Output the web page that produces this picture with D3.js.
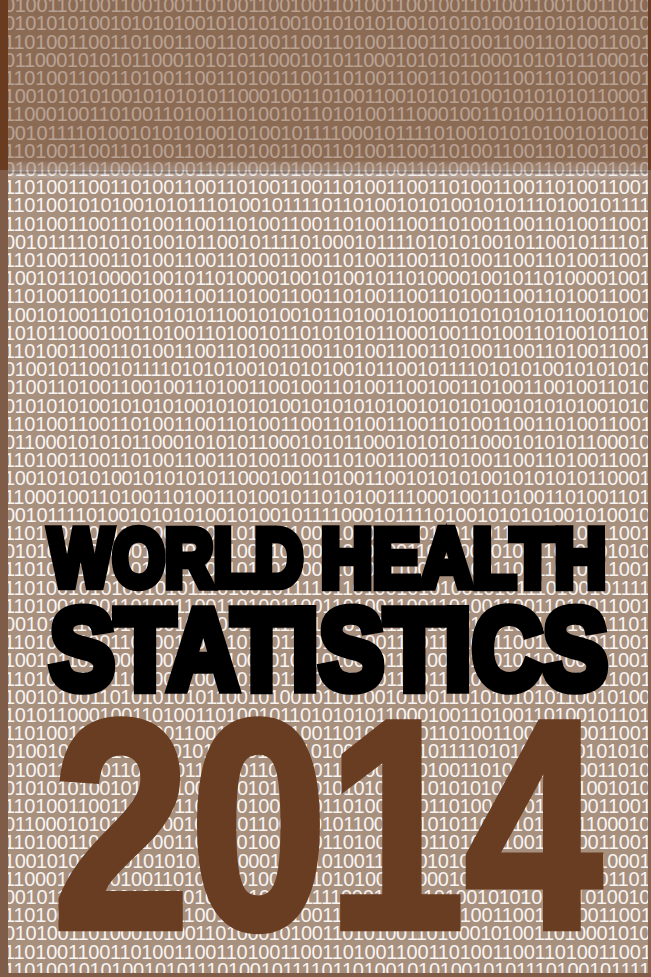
<!DOCTYPE html>
<meta charset="utf-8">
<style type="text/css">
body { margin: 0; background: #a8907f; }
.bits { font-family: "Liberation Sans", Arial, sans-serif; font-size: 20px; fill: #f8f4f1; }
</style>
<body>
<script src="https://cdn.jsdelivr.net/npm/d3@7/dist/d3.min.js"></script>
<script>
var binaryRows = [
  "01001101001100100110100110010011010011001001101001100100110100",
  "01010101001010101001010101001010101010010101010010101010010101",
  "11010011001101001100110100110011010011001101001100110100110011",
  "01100010101011000101010110001010110001010101100010101011000101",
  "11010011001101001100110100110011010011001101001100110100110011",
  "10010101010010101010110001001101001100101010100101010101100010",
  "11000100110100110100110100101101010011100010011010011010011010",
  "00101111010010101010010100101111000101111010010101010010100101",
  "11010011001101001100110100110011010011001101001100110100110011",
  "01010011010001010011010001010011010100110100010100110100010100",
  "11010011001101001100110100110011010011001101001100110100110011",
  "11010010101001010111010010111101101001010100101011101001011110",
  "11010011001101001100110100110011010011001101001100110100110011",
  "00101111010101001011001011110100010111101010100101100101111010",
  "11010011001101001100110100110011010011001101001100110100110011",
  "10010110100001001011010000100101001011010000100101101000010010",
  "11010011001101001100110100110011010011001101001100110100110011",
  "10010100110101010101100101001011010010100110101010101100101001",
  "10101100010011010011010010110101010110001001101001101001011010",
  "11010011001101001100110100110011010011001101001100110100110011",
  "01001011001011110101010010101010010110010111101010100101010100"
];
var titleWords = [["WORLD", "HEALTH"], ["STATISTICS"]];
var yearText = "2014";

var width = 651, height = 977;
var rowsShown = 54;

var svg = d3.select("body").append("svg")
    .attr("width", width)
    .attr("height", height)
    .style("display", "block");

var defs = svg.append("defs");
defs.append("clipPath").attr("id", "frame")
  .append("rect").attr("width", width).attr("height", height);

// background
svg.append("rect").attr("width", width).attr("height", height).attr("fill", "#a8907f");

// row position scale (cap tops)
var y = d3.scaleLinear().domain([0, rowsShown - 1]).range([-2, -2 + 18.2 * (rowsShown - 1)]);

svg.append("g").attr("class", "bits").attr("clip-path", "url(#frame)")
  .selectAll("text")
  .data(d3.range(rowsShown))
  .join("text")
    .attr("x", 4)
    .attr("y", function(i) { return y(i) + 14.2; })
    .attr("textLength", function(i) { return binaryRows[i % binaryRows.length].length * 10.6; })
    .attr("lengthAdjust", "spacing")
    .text(function(i) { return binaryRows[i % binaryRows.length]; });

// darker top band
var edge = defs.append("linearGradient").attr("id", "edge").attr("x1", 0).attr("y1", 0).attr("x2", 0).attr("y2", 1);
edge.append("stop").attr("offset", "0%").attr("stop-color", "#ffffff").attr("stop-opacity", 0);
edge.append("stop").attr("offset", "45%").attr("stop-color", "#d8d4d4").attr("stop-opacity", 0.25);
edge.append("stop").attr("offset", "62%").attr("stop-color", "#5a4a44").attr("stop-opacity", 0.45);
edge.append("stop").attr("offset", "75%").attr("stop-color", "#e0dcdc").attr("stop-opacity", 0.3);
edge.append("stop").attr("offset", "100%").attr("stop-color", "#ffffff").attr("stop-opacity", 0);

svg.append("rect").attr("x", 0).attr("y", 0).attr("width", width).attr("height", 170)
    .attr("fill", "#6b3d22").attr("opacity", 0.45);
svg.append("rect").attr("x", 0).attr("y", 160).attr("width", width).attr("height", 20)
    .attr("fill", "url(#edge)");

// edges
svg.append("rect").attr("x", 0).attr("y", 0).attr("width", 8).attr("height", height).attr("fill", "#7e5c47");
svg.append("rect").attr("x", 0).attr("y", 0).attr("width", 8).attr("height", 170).attr("fill", "#693c20");
svg.append("rect").attr("x", 648).attr("y", 0).attr("width", 3).attr("height", height).attr("fill", "#86644f");
svg.append("rect").attr("x", 648).attr("y", 0).attr("width", 3).attr("height", 170).attr("fill", "#6b3d22");
svg.append("rect").attr("x", 0).attr("y", 973).attr("width", width).attr("height", 4).attr("fill", "#7e5c47");

// fit a string's ink into a box
var ctx = document.createElement("canvas").getContext("2d");
function fitText(str, box, family, weight, fill, sw) {
  ctx.font = weight + " 100px " + family;
  var m = ctx.measureText(str);
  var inkW = m.actualBoundingBoxLeft + m.actualBoundingBoxRight;
  var inkH = m.actualBoundingBoxAscent + m.actualBoundingBoxDescent;
  var sx = (box.w - sw) / inkW, sy = (box.h - sw) / inkH;
  var tx = box.x + sw / 2 + m.actualBoundingBoxLeft * sx;
  var ty = box.y + sw / 2 + m.actualBoundingBoxAscent * sy;
  svg.append("text")
    .attr("transform", "translate(" + tx + "," + ty + ") scale(" + sx + "," + sy + ")")
    .style("font-family", family)
    .style("font-weight", weight)
    .style("font-size", "100px")
    .attr("fill", fill)
    .attr("stroke", fill)
    .attr("stroke-width", sw)
    .attr("stroke-linejoin", "miter")
    .attr("vector-effect", "non-scaling-stroke")
    .text(str);
}

var titleFont = '"Liberation Sans", Arial, sans-serif';
fitText(titleWords[0][0], {x: 45, y: 525, w: 260, h: 66}, titleFont, "bold", "#000", 8);
fitText(titleWords[0][1], {x: 321, y: 525, w: 285, h: 66}, titleFont, "bold", "#000", 8);
fitText(titleWords[1][0], {x: 47, y: 604, w: 562, h: 91}, titleFont, "bold", "#000", 9);
fitText(yearText, {x: 57, y: 716, w: 549, h: 218}, titleFont, "bold", "#693d22", 6);
</script>
</body>
